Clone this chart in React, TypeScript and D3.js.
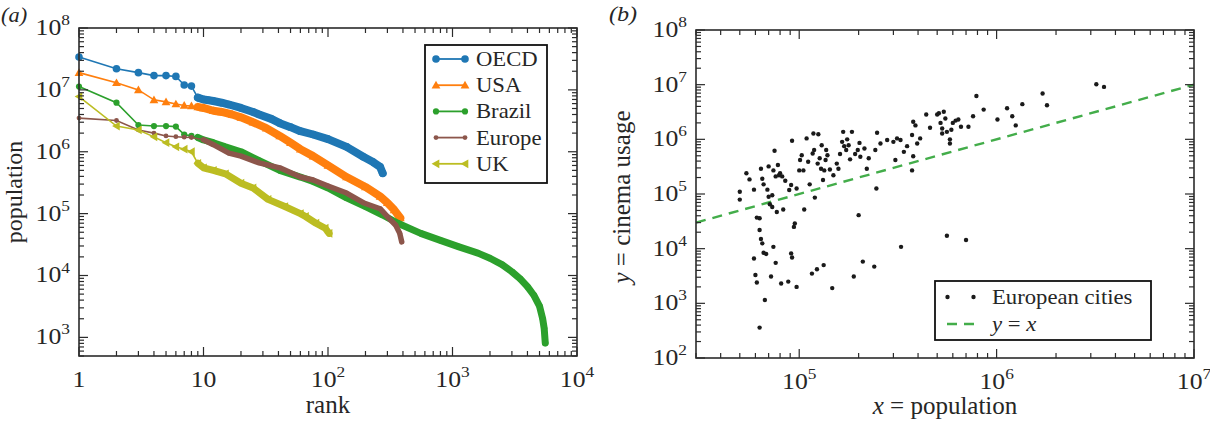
import React from "react";
import * as d3 from "d3";

const FONT = '"Liberation Serif","Times New Roman",serif';

// ---------- Panel (a): rank-size data ----------
const oecdRanks = [1, 2, 3, 4, 5, 6, 7, 8, 9, 10, 11, 12, 14, 16, 20, 25, 28, 35, 41, 50, 60, 76, 100, 141, 192, 230, 262, 275];
const oecdValues = [3.4e7, 2.2e7, 1.9e7, 1.7e7, 1.7e7, 1.65e7, 1.2e7, 1.15e7, 7.5e6, 7.0e6, 6.8e6, 6.6e6, 6.2e6, 5.8e6, 5.1e6, 4.4e6, 4.0e6, 3.4e6, 2.9e6, 2.5e6, 2.15e6, 1.9e6, 1.6e6, 1.2e6, 8.3e5, 6.8e5, 5.7e5, 4.5e5];

const usaRanks = [1, 2, 3, 4, 5, 6, 7, 8, 9, 10, 12, 14, 17, 20, 25, 32, 41, 50, 60, 76, 100, 141, 200, 262, 300, 340, 381];
const usaValues = [1.9e7, 1.3e7, 1.0e7, 6.9e6, 6.4e6, 5.9e6, 5.6e6, 5.5e6, 5.3e6, 5.1e6, 4.6e6, 4.4e6, 4.0e6, 3.6e6, 3.0e6, 2.4e6, 1.8e6, 1.4e6, 1.1e6, 8.5e5, 6.0e5, 3.9e5, 2.7e5, 1.9e5, 1.5e5, 1.15e5, 8.5e4];

const brazilRanks = [1, 2, 3, 4, 5, 6, 7, 8, 9, 10, 12, 15, 20, 28, 41, 60, 76, 100, 141, 200, 275, 364, 556, 800, 1128, 1600, 2000, 2500, 3000, 3500, 4000, 4500, 5000, 5300, 5450, 5560];
const brazilValues = [1.13e7, 6.2e6, 2.7e6, 2.6e6, 2.6e6, 2.55e6, 1.9e6, 1.8e6, 1.7e6, 1.55e6, 1.4e6, 1.2e6, 1.0e6, 7.2e5, 5.0e5, 3.9e5, 3.3e5, 2.6e5, 1.8e5, 1.3e5, 9.5e4, 7.0e4, 4.8e4, 3.7e4, 2.9e4, 2.3e4, 1.9e4, 1.5e4, 1.15e4, 8.8e3, 6.6e3, 4.8e3, 3.2e3, 2.0e3, 1.4e3, 810];

const europeRanks = [1, 2, 3, 4, 5, 6, 7, 8, 10, 12, 16, 20, 28, 41, 60, 76, 100, 141, 192, 262, 316, 350, 377, 391];
const europeValues = [3.5e6, 3.2e6, 2.25e6, 2.0e6, 1.8e6, 1.75e6, 1.72e6, 1.7e6, 1.56e6, 1.3e6, 9.5e5, 8.5e5, 6.6e5, 5.5e5, 3.9e5, 3.5e5, 2.8e5, 2.15e5, 1.5e5, 1.2e5, 8.0e4, 6.5e4, 4.8e4, 3.5e4];

const ukRanks = [1, 2, 3, 4, 5, 6, 7, 8, 9, 10, 12, 15, 20, 25, 33, 45, 60, 66, 80, 95, 102];
const ukValues = [7.8e6, 2.6e6, 2.25e6, 1.74e6, 1.4e6, 1.2e6, 1.1e6, 1.0e6, 6.5e5, 5.5e5, 5.0e5, 4.4e5, 3.1e5, 2.6e5, 1.7e5, 1.3e5, 1.0e5, 9.0e4, 7.0e4, 5.8e4, 4.8e4];

const seriesNames = ["OECD", "USA", "Brazil", "Europe", "UK"];
const seriesColors = ["#1f77b4", "#ff7f0e", "#2ca02c", "#8c564b", "#bcbd22"];

// ---------- Panel (b): European cities ----------
const cityPopulation = [
  5.0e4, 5.0e4, 5.4e4, 5.6e4, 5.9e4, 6.1e4, 6.3e4, 6.3e4, 6.4e4, 6.5e4, 6.6e4, 6.8e4, 5.9e4, 6.0e4, 6.1e4, 7.2e4, 7.6e4, 7.4e4,
  6.4e4, 6.5e4, 6.6e4, 6.9e4, 7.0e4, 7.0e4, 7.1e4, 7.3e4, 7.3e4, 7.4e4, 7.5e4, 7.6e4, 7.7e4, 7.8e4, 7.9e4, 8.0e4, 8.2e4, 8.3e4,
  8.5e4, 8.1e4, 8.8e4, 9.7e4, 9.1e4, 9.2e4, 9.2e4, 9.4e4, 9.5e4, 8.9e4, 9.1e4, 9.7e4, 1.0e5, 1.01e5, 1.03e5, 1.05e5, 1.06e5,
  1.09e5, 1.11e5, 1.13e5, 1.16e5, 1.17e5, 1.18e5, 1.19e5, 1.2e5, 1.23e5, 1.24e5, 1.25e5, 1.27e5, 1.29e5, 1.30e5, 1.32e5, 1.33e5,
  1.34e5, 1.36e5, 1.37e5, 1.39e5, 1.43e5, 1.47e5, 1.49e5, 1.55e5, 1.58e5, 1.61e5, 1.65e5, 1.67e5, 1.69e5, 1.73e5, 1.75e5, 1.78e5,
  1.81e5, 1.85e5, 1.89e5, 1.92e5, 1.98e5, 2.0e5, 2.02e5, 2.04e5, 2.1e5, 2.14e5, 2.2e5, 2.25e5, 2.4e5, 2.43e5, 2.46e5, 2.48e5,
  2.58e5, 2.79e5, 3.0e5, 3.07e5, 3.13e5, 3.28e5, 3.39e5, 3.52e5, 3.73e5, 3.78e5, 3.88e5, 3.96e5, 6.3e4, 6.7e4,
  3.26e5, 3.73e5, 3.78e5, 4.1e5, 4.4e5, 4.6e5, 5.0e5, 5.1e5, 5.2e5, 5.3e5, 5.3e5, 5.4e5, 5.5e5, 5.6e5, 5.8e5, 5.8e5, 5.9e5,
  6.0e5, 6.2e5, 6.4e5, 6.6e5, 7.2e5, 7.6e5, 7.9e5, 8.6e5, 1.01e6, 1.13e6, 1.2e6, 1.25e6, 1.35e6, 1.71e6, 1.8e6, 3.2e6, 3.5e6,
  5.6e5, 7.0e5,
];
const cityCinema = [
  1.1e5, 7.9e4, 2.4e5, 1.85e5, 1.2e5, 3.7e4, 3.6e4, 2.2e4, 1.5e4, 1.25e4, 8.4e3, 8.0e3, 6.6e3, 3.3e3, 2.4e3, 3.1e3, 5.5e3, 1.08e4,
  2.9e5, 1.9e5, 1.5e5, 1.2e5, 3.2e5, 8.9e4, 6.5e4, 9.5e4, 5.8e4, 2.7e5, 6.2e5, 2.1e5, 4.7e4, 3.4e5, 2.2e5, 2.4e5, 2.1e5, 5.2e4,
  1.75e5, 2.3e3, 2.5e3, 2.0e3, 8.2e3, 6.9e3, 9.4e5, 2.5e4, 2.9e4, 1.18e5, 1.46e5, 1.26e5, 2.7e5, 4.2e5, 5.1e5, 2.7e5, 5.2e4,
  1.04e6, 3.9e5, 1.5e5, 3.5e3, 5.5e5, 1.28e6, 6.4e5, 8.6e4, 4.2e3, 3.6e5, 1.24e6, 4.5e5, 2.9e5, 7.8e5, 1.8e5, 5.0e3,
  2.7e5, 4.2e5, 6.4e5, 5.1e5, 2.8e5, 1.9e3, 2.2e5, 3.6e5, 2.9e5, 5.4e5, 9.0e5, 1.37e6, 7.5e5, 6.4e5, 1.0e6, 7.8e5,
  4.3e5, 1.37e6, 3.1e3, 5.4e5, 6.4e5, 4.1e4, 8.6e5, 4.8e5, 5.8e3, 6.8e5, 2.9e5, 4.5e5, 4.7e3, 6.4e5, 1.26e5, 1.32e6,
  8.4e5, 9.7e5, 9.0e5, 4.2e5, 1.04e6, 1.08e4, 5.9e5, 7.5e5, 2.7e5, 2.1e6, 1.8e6, 8.4e5, 360, 1.15e3,
  9.7e5, 1.2e6, 4.9e5, 1.04e6, 2.85e6, 1.63e6, 2.85e6, 3.0e6, 2.0e6, 1.58e6, 1.28e6, 3.2e6, 2.4e6, 1.37e6, 1.0e6, 8.4e5, 1.5e6,
  2.0e6, 2.2e6, 2.3e6, 1.7e6, 1.7e6, 2.65e6, 6.2e6, 3.5e6, 2.3e6, 3.7e6, 2.65e6, 1.8e6, 4.4e6, 6.9e6, 4.2e6, 1.02e7, 9.1e6,
  1.72e4, 1.44e4,
];

// ---------- Tick labels ----------
const rankTicks = [1, 10, 100, 1000, 10000];
const rankTickLabels = [["1", ""], ["10", ""], ["10", "2"], ["10", "3"], ["10", "4"]];
const popTicksA = [1e3, 1e4, 1e5, 1e6, 1e7, 1e8];
const popTickLabelsA = [["10", "3"], ["10", "4"], ["10", "5"], ["10", "6"], ["10", "7"], ["10", "8"]];
const popTicksB = [1e5, 1e6, 1e7];
const popTickLabelsB = [["10", "5"], ["10", "6"], ["10", "7"]];
const cinemaTicks = [1e2, 1e3, 1e4, 1e5, 1e6, 1e7, 1e8];
const cinemaTickLabels = [["10", "2"], ["10", "3"], ["10", "4"], ["10", "5"], ["10", "6"], ["10", "7"], ["10", "8"]];

const AX = "#2b2b2b";
const TXT = "#262626";
const SX = 1.12;

function logAllTicks(domain: number[]) {
  const [a, b] = domain;
  const out: { v: number; major: boolean }[] = [];
  for (let d = Math.floor(Math.log10(a)); d <= Math.ceil(Math.log10(b)); d++) {
    for (let k = 1; k <= 9; k++) {
      const v = k * Math.pow(10, d);
      if (v >= a * 0.9999 && v <= b * 1.0001) out.push({ v, major: k === 1 });
    }
  }
  return out;
}

function T({ x, y, size, anchor, sx, italic, children, rotate }: any) {
  const tr = `translate(${x},${y}) scale(${sx ?? 1},1)` + (rotate ? ` rotate(${rotate})` : "");
  return (
    <text transform={tr} textAnchor={anchor || "start"} fontFamily={FONT} fontSize={size} fontStyle={italic ? "italic" : "normal"} fill={TXT}>
      {children}
    </text>
  );
}

function Label({ x, y, lab, anchor }: any) {
  const size = 23;
  return (
    <T x={x} y={y} size={size} anchor={anchor} sx={SX}>
      {lab[0]}
      {lab[1] ? (
        <tspan dy={-10} fontSize={15.5}>
          {lab[1]}
        </tspan>
      ) : null}
    </T>
  );
}

function Frame({ xs, ys, xTicks, xLabels, yTicks, yLabels }: any) {
  const [l, r] = xs.range();
  const [b, t] = ys.range();
  const xt = logAllTicks(xs.domain());
  const yt = logAllTicks(ys.domain());
  const MJ = 9, MN = 5;
  return (
    <g>
      {xt.map((tk, i) => {
        const x = xs(tk.v);
        const len = tk.major ? MJ : MN;
        return (
          <g key={"x" + i}>
            <line x1={x} x2={x} y1={b} y2={b - len} stroke={AX} strokeWidth={1.2} />
            <line x1={x} x2={x} y1={t} y2={t + len} stroke={AX} strokeWidth={1.2} />
          </g>
        );
      })}
      {yt.map((tk, i) => {
        const y = ys(tk.v);
        const len = tk.major ? MJ : MN;
        return (
          <g key={"y" + i}>
            <line x1={l} x2={l + len} y1={y} y2={y} stroke={AX} strokeWidth={1.2} />
            <line x1={r} x2={r - len} y1={y} y2={y} stroke={AX} strokeWidth={1.2} />
          </g>
        );
      })}
      <rect x={l} y={t} width={r - l} height={b - t} fill="none" stroke={AX} strokeWidth={1.6} />
      {xTicks.map((v: number, i: number) => (
        <Label key={"xl" + i} x={xs(v)} y={b + 31} lab={xLabels[i]} anchor="middle" />
      ))}
      {yTicks.map((v: number, i: number) => (
        <Label key={"yl" + i} x={l - 9} y={ys(v) + 7} lab={yLabels[i]} anchor="end" />
      ))}
    </g>
  );
}

function Marker({ kind, x, y, color }: any) {
  if (kind === "circle") return <circle cx={x} cy={y} r={3.8} fill={color} />;
  if (kind === "smallcircle") return <circle cx={x} cy={y} r={3.1} fill={color} />;
  if (kind === "tiny") return <circle cx={x} cy={y} r={2.4} fill={color} />;
  const s = 4.4;
  if (kind === "tri") {
    return <path d={`M${x},${y - s}L${x + s},${y + s * 0.75}L${x - s},${y + s * 0.75}Z`} fill={color} />;
  }
  return <path d={`M${x - s},${y}L${x + s * 0.75},${y - s}L${x + s * 0.75},${y + s}Z`} fill={color} />;
}

export default function App() {
  // Panel (a)
  const xa = d3.scaleLog().domain([1, 1e4]).range([79, 577]);
  const ya = d3.scaleLog().domain([500, 1e8]).range([356, 28]);
  const kinds = ["circle", "tri", "smallcircle", "tiny", "tril"];
  const bands = [8, 8, 7, 5.5, 7];
  const allRanks = [oecdRanks, usaRanks, brazilRanks, europeRanks, ukRanks];
  const allValues = [oecdValues, usaValues, brazilValues, europeValues, ukValues];
  const line = d3
    .line<[number, number]>()
    .x((d) => xa(d[0]))
    .y((d) => ya(d[1]));

  // Panel (b)
  const xb = d3.scaleLog().domain([3e4, 1e7]).range([696, 1194]);
  const yb = d3.scaleLog().domain([100, 1e8]).range([358, 30]);
  const diag = [3e4, 1e7];

  const legA = { x: 425, y: 45, w: 122, h: 138 };
  const legB = { x: 935, y: 281, w: 216, h: 59 };
  const DASH = "10,7";
  const DGREEN = "#43ad4a";

  return (
    <svg width={1210} height={423} style={{ position: "absolute", left: 0, top: 0, background: "#fff" }}>
      <rect width={1210} height={423} fill="#fff" />
      {/* ---------- Panel (a) ---------- */}
      <T x={1} y={22} size={20} sx={1.12} italic>(a)</T>
      <g>
        {allRanks.map((ranks, si) => {
          const pts: [number, number][] = ranks.map((r, i) => [r, allValues[si][i]]);
          const dense = pts.filter((p) => p[0] >= 9);
          const color = seriesColors[si];
          return (
            <g key={si}>
              <path d={line(pts) || ""} fill="none" stroke={color} strokeWidth={1.6} />
              <path d={line(dense) || ""} fill="none" stroke={color} strokeWidth={bands[si]} strokeLinecap="round" strokeLinejoin="round" />
              {pts.map((p, i) => (
                <Marker key={i} kind={kinds[si]} x={xa(p[0])} y={ya(p[1])} color={color} />
              ))}
            </g>
          );
        })}
      </g>
      <Frame xs={xa} ys={ya} xTicks={rankTicks} xLabels={rankTickLabels} yTicks={popTicksA} yLabels={popTickLabelsA} />
      <T x={328} y={413} size={25} anchor="middle">rank</T>
      <T x={22} y={192} size={24} anchor="middle" rotate={-90}>population</T>
      <g>
        <rect x={legA.x} y={legA.y} width={legA.w} height={legA.h} fill="#fff" stroke="#111" strokeWidth={1.8} />
        {seriesNames.map((n, i) => {
          const yy = legA.y + 14 + i * 26.2;
          return (
            <g key={n}>
              <line x1={legA.x + 11} x2={legA.x + 40} y1={yy} y2={yy} stroke={seriesColors[i]} strokeWidth={1.8} />
              <Marker kind={kinds[i]} x={legA.x + 11} y={yy} color={seriesColors[i]} />
              <Marker kind={kinds[i]} x={legA.x + 40} y={yy} color={seriesColors[i]} />
              <T x={legA.x + 51} y={yy + 7} size={21} sx={1.08}>{n}</T>
            </g>
          );
        })}
      </g>

      {/* ---------- Panel (b) ---------- */}
      <T x={609} y={21} size={21} sx={1.15} italic>(b)</T>
      <line x1={xb(diag[0])} y1={yb(diag[0])} x2={xb(diag[1])} y2={yb(diag[1])} stroke={DGREEN} strokeWidth={2.4} strokeDasharray={DASH} />
      {cityPopulation.map((p, i) => (
        <circle key={i} cx={xb(p)} cy={yb(cityCinema[i])} r={2.2} fill="#1a1a1a" />
      ))}
      <Frame xs={xb} ys={yb} xTicks={popTicksB} xLabels={popTickLabelsB} yTicks={cinemaTicks} yLabels={cinemaTickLabels} />
      <T x={945} y={414} size={25} anchor="middle">
        <tspan fontStyle="italic">x</tspan> = population
      </T>
      <T x={630} y={197} size={25} anchor="middle" rotate={-90}>
        <tspan fontStyle="italic">y</tspan> = cinema usage
      </T>
      <g>
        <rect x={legB.x} y={legB.y} width={legB.w} height={legB.h} fill="#fff" stroke="#111" strokeWidth={1.8} />
        <circle cx={legB.x + 12.5} cy={legB.y + 16} r={2.2} fill="#1a1a1a" />
        <circle cx={legB.x + 38.5} cy={legB.y + 16} r={2.2} fill="#1a1a1a" />
        <T x={legB.x + 57} y={legB.y + 23} size={21} sx={1.08}>European cities</T>
        <line x1={legB.x + 12} x2={legB.x + 39} y1={legB.y + 43} y2={legB.y + 43} stroke={DGREEN} strokeWidth={2.4} strokeDasharray={DASH} />
        <T x={legB.x + 57} y={legB.y + 50} size={21} sx={1.08}>
          <tspan fontStyle="italic">y</tspan> = <tspan fontStyle="italic">x</tspan>
        </T>
      </g>
    </svg>
  );
}
